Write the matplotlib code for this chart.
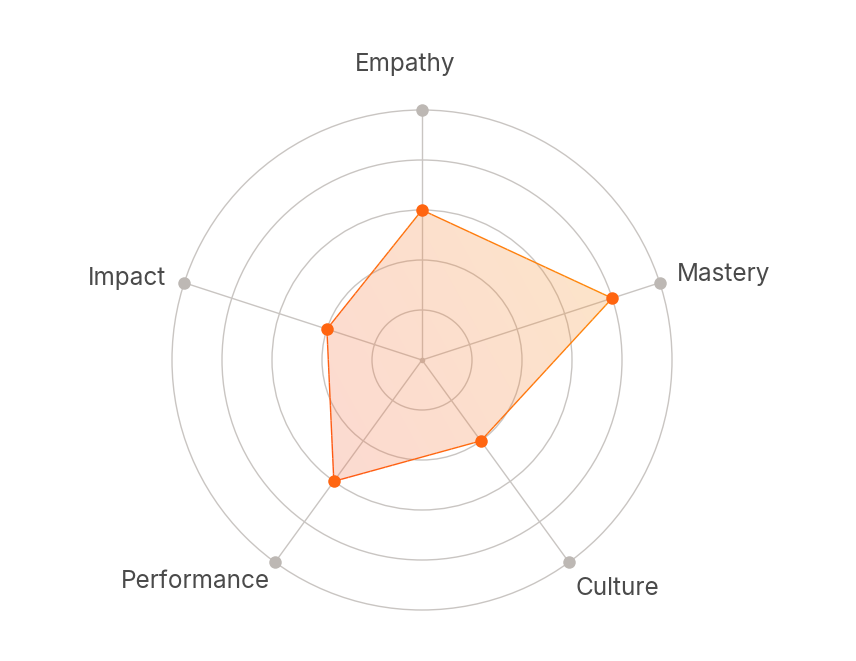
import matplotlib
matplotlib.use('Agg')
import matplotlib.pyplot as plt
import numpy as np
from matplotlib.patches import Polygon, Circle
from matplotlib.collections import LineCollection
from matplotlib.colors import to_rgb

# Data (clockwise from top)
categories = ["Empathy", "Mastery", "Culture", "Performance", "Impact"]
values = [3, 4, 2, 3, 2]
max_value = 5
rings = [1, 2, 3, 4, 5]

plt.rcParams['font.family'] = ['Inter', 'DejaVu Sans']

fig = plt.figure(figsize=(8.56, 6.61), dpi=100)
ax = fig.add_axes([0, 0, 1, 1])
ax.set_xlim(-8.44, 8.68)
ax.set_ylim(-6.02, 7.2)
ax.set_aspect('equal')
ax.axis('off')

n = len(categories)
angles = np.deg2rad(90 - 360 / n * np.arange(n))
grid_c = '#c9c5c2'

# rings
for r in rings:
    ax.add_patch(Circle((0, 0), r, fill=False, edgecolor=grid_c, lw=1.0, zorder=1))

# spokes + end dots
for a in angles:
    ax.plot([0, max_value * np.cos(a)], [0, max_value * np.sin(a)], color=grid_c, lw=1.0, zorder=1)
    ax.plot(max_value * np.cos(a), max_value * np.sin(a), 'o', ms=9, color='#bdb8b4',
            mec='none', zorder=2)
ax.plot(0, 0, 'o', ms=4, color='#c2bbb6', mec='none', zorder=2)

# data polygon
xs = np.array(values) * np.cos(angles)
ys = np.array(values) * np.sin(angles)
pts = np.column_stack([xs, ys])

c_a = np.array(to_rgb('#f36b53'))  # lower-left
c_b = np.array(to_rgb('#f79733'))  # upper-right
d = np.array([1.0, 0.55])
d = d / np.linalg.norm(d)

def grad_t(x, y):
    p = x * d[0] + y * d[1]
    return np.clip((p + 4.0) / 8.0, 0, 1)

gx, gy = np.meshgrid(np.linspace(-5, 5, 300), np.linspace(-5, 5, 300))
t = grad_t(gx, gy)
img = np.zeros((300, 300, 4))
for k in range(3):
    img[..., k] = c_a[k] * (1 - t) + c_b[k] * t
img[..., 3] = 0.26
poly = Polygon(pts, closed=True, facecolor='none', edgecolor='none')
ax.add_patch(poly)
im = ax.imshow(img, extent=(-5, 5, -5, 5), origin='lower', zorder=3, interpolation='bilinear')
im.set_clip_path(poly)

# outline with gradient
l_a = np.array(to_rgb('#ff4d14'))
l_b = np.array(to_rgb('#ff8a0a'))
segs, cols = [], []
closed = np.vstack([pts, pts[:1]])
for i in range(n):
    p0, p1 = closed[i], closed[i + 1]
    for s in range(20):
        q0 = p0 + (p1 - p0) * s / 20
        q1 = p0 + (p1 - p0) * (s + 1) / 20
        tt = grad_t(*(q0 + q1) / 2)
        segs.append([q0, q1])
        cols.append(l_a * (1 - tt) + l_b * tt)
ax.add_collection(LineCollection(segs, colors=cols, linewidths=1.0, zorder=4))

for x, y in pts:
    ax.plot(x, y, 'o', ms=9, color=l_a * 0.6 + l_b * 0.4, mec='none', zorder=5)

# labels
label_pos = [(-0.34, 5.9, 'center'), (5.1, 1.72, 'left'), (3.07, -4.57, 'left'),
             (-4.54, -4.44, 'center'), (-5.9, 1.62, 'center')]
for lab, (x, y, ha) in zip(categories, label_pos):
    ax.text(x, y, lab, ha=ha, va='center', fontsize=17.5, color='#4a4a4a')

fig.savefig('out.png', dpi=100, facecolor='white')
